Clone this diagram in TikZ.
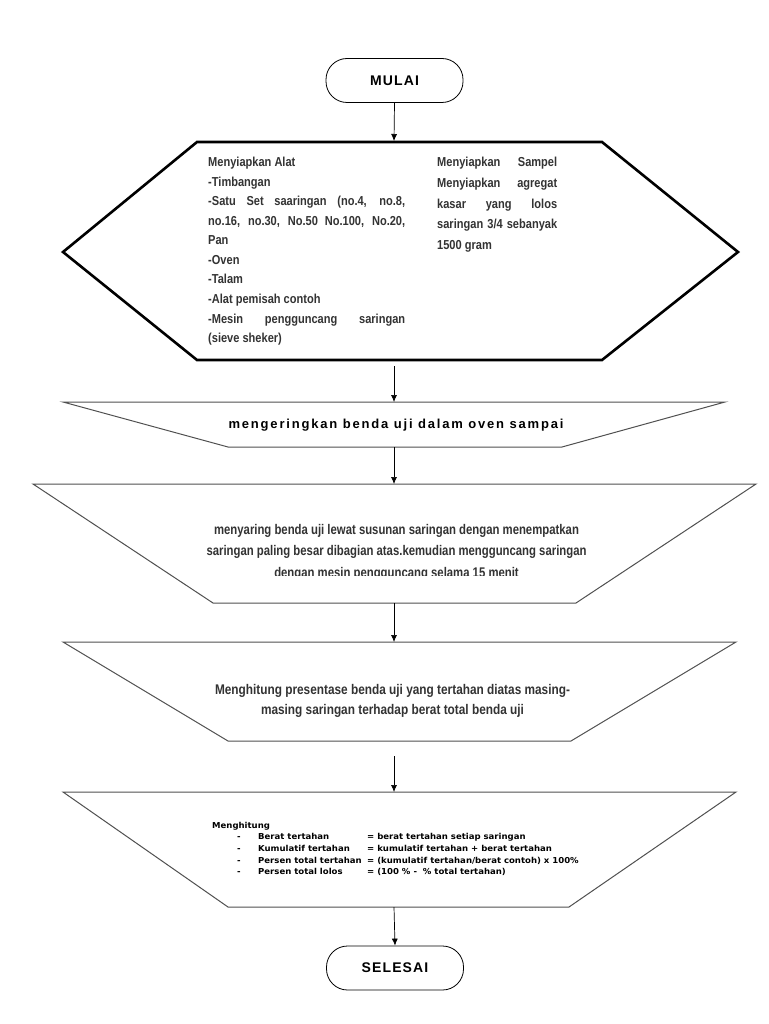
\documentclass[tikz,border=0pt]{standalone}
\usepackage{fontspec}
\setmainfont{Liberation Sans}
\newfontfamily\narrowfont[FakeStretch=0.85]{Liberation Sans}
\newfontfamily\tightfont[FakeStretch=0.81]{Liberation Sans}
\newfontfamily\persenfont[FakeStretch=0.845]{Liberation Sans}
\newfontfamily\smallfont[FakeStretch=1.04]{DejaVu Sans}
\usetikzlibrary{positioning,arrows.meta}
\definecolor{textgray}{HTML}{333333}
\definecolor{edgegray}{HTML}{505050}

\begin{document}
\begin{tikzpicture}[x=1pt,y=-1pt,
  term/.style={draw,line width=0.8pt,rounded corners=21pt,minimum width=137pt,
    minimum height=44pt,font=\bfseries\fontsize{14}{16}\selectfont\addfontfeature{LetterSpace=8}},
  box/.style={draw=edgegray,line width=1pt},
  arr/.style={-{Latex[length=7pt,width=6pt]},line width=0.7pt}]
\useasboundingbox (0,0) rectangle (768,1024);
\fill[white] (0,0) rectangle (768,1024);

% mulai
\node[term] (mulai) at (394.5,80.5) {MULAI};
\coordinate (hexa-top) at (394,141);
\draw[arr] (mulai.south) -- (hexa-top);

% persiapan alat dan sampel
\draw[line width=2.6pt,line join=miter] (197,142) -- (602,142) -- (738,252) -- (602,360)
  -- (197,360) -- (63,252) -- cycle;
\node[anchor=north west,inner sep=0pt,text width=197pt,align=justify,text=textgray,
  font=\narrowfont\bfseries\fontsize{13}{19.55}\selectfont] (alat) at (208,157)
  {Menyiapkan Alat\\
  -Timbangan\\
  -Satu Set saaringan (no.4, no.8,\linebreak no.16, no.30, No.50 No.100, No.20,\linebreak Pan\\
  -Oven\\
  -Talam\\
  -Alat pemisah contoh\\
  -Mesin pengguncang saringan\linebreak (sieve sheker)};
\node[anchor=north west,inner sep=0pt,text width=120pt,align=justify,text=textgray,
  font=\narrowfont\bfseries\fontsize{13}{20.75}\selectfont] (sampel) at (437,157)
  {Menyiapkan Sampel\linebreak Menyiapkan agregat\linebreak kasar yang lolos\linebreak
  saringan 3/4 sebanyak\linebreak 1500 gram};
\coordinate (hexa-bot) at (394,366);

% pengeringan
\draw[box] (63,402) -- (725,402) -- (562,447) -- (228,447) -- cycle;
\coordinate (oven-top) at (394,402);
\coordinate (oven-bot) at (394,447);
\node[font=\bfseries\fontsize{13}{15}\selectfont\addfontfeature{LetterSpace=14}] (oven) at (396,425)
  {mengeringkan benda uji dalam oven sampai};
\draw[arr] (hexa-bot) -- (oven-top);

% penyaringan
\draw[box] (33,484) -- (756,484) -- (576,603) -- (213,603) -- cycle;
\coordinate (saring-top) at (394,484);
\coordinate (saring-bot) at (394,603);
\begin{scope}
\clip (33,484) rectangle (756,575.5);
\node[align=center,text=textgray,font=\tightfont\bfseries\fontsize{14}{21.5}\selectfont] (saring) at (396.5,552)
  {menyaring benda uji lewat susunan saringan dengan menempatkan\\
  saringan paling besar dibagian atas.kemudian mengguncang saringan\\
  dengan mesin pengguncang selama 15 menit};
\end{scope}
\draw[arr] (oven-bot) -- (saring-top);

% presentase
\draw[box] (63,642) -- (736,642) -- (571,741) -- (228,741) -- cycle;
\coordinate (persen-top) at (394,642);
\coordinate (persen-bot) at (394,756);
\node[align=center,text=textgray,font=\persenfont\bfseries\fontsize{14}{20}\selectfont] (persen) at (392.5,701)
  {Menghitung presentase benda uji yang tertahan diatas masing-\\
  masing saringan terhadap berat total benda uji};
\draw[arr] (saring-bot) -- (persen-top);

% perhitungan
\draw[box] (63,792) -- (736,792) -- (569,907) -- (228,907) -- cycle;
\coordinate (hitung-top) at (394,792);
\coordinate (hitung-bot) at (394,907);
\node[anchor=north west,inner sep=0pt,font=\smallfont\bfseries\fontsize{8.2}{11.6}\selectfont] (hitung) at (212,820)
  {\begin{tabular}{@{}p{25pt}@{}p{21pt}@{}p{109pt}@{}l@{}}
  \multicolumn{4}{@{}l}{Menghitung}\\
  & - & Berat tertahan & = berat tertahan setiap saringan\\
  & - & Kumulatif tertahan & = kumulatif tertahan + berat tertahan\\
  & - & Persen total tertahan & = (kumulatif tertahan/berat contoh) x 100\%\\
  & - & Persen total lolos & = (100 \% - \ \% total tertahan)
  \end{tabular}};
\draw[arr] (persen-bot) -- (hitung-top);

% selesai
\node[term] (selesai) at (395,968) {SELESAI};
\draw[arr] (hitung-bot) -- (selesai.north);
\end{tikzpicture}
\end{document}
